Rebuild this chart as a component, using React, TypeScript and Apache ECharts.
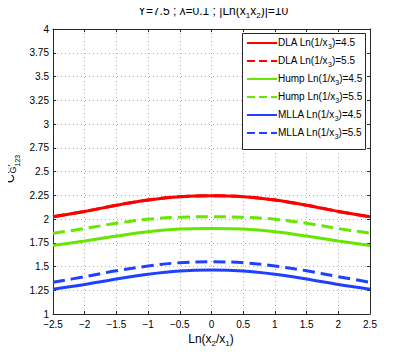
import React, { useEffect, useRef } from "react";
import * as echarts from "echarts";

const xs = [-2.5, -2, -1.5, -1, -0.5, 0, 0.5, 1, 1.5, 2, 2.5];
const dla45 = [2.024, 2.08, 2.145, 2.2, 2.235, 2.245, 2.235, 2.2, 2.145, 2.08, 2.024];
const dla55 = [2.024, 2.08, 2.145, 2.2, 2.235, 2.245, 2.235, 2.2, 2.145, 2.08, 2.024];
const hump45 = [1.72, 1.768, 1.82, 1.866, 1.894, 1.9, 1.894, 1.866, 1.82, 1.768, 1.72];
const hump55 = [1.85, 1.9, 1.955, 1.998, 2.018, 2.024, 2.018, 1.998, 1.955, 1.9, 1.85];
const mlla45 = [1.26, 1.31, 1.368, 1.418, 1.452, 1.462, 1.452, 1.418, 1.368, 1.31, 1.26];
const mlla55 = [1.334, 1.393, 1.455, 1.505, 1.54, 1.55, 1.54, 1.505, 1.455, 1.393, 1.334];

const seriesNames = ["DLA", "DLA", "Hump", "Hump", "MLLA", "MLLA"];
const seriesX3 = ["4.5", "5.5", "4.5", "5.5", "4.5", "5.5"];
const seriesValues = [dla45, dla55, hump45, hump55, mlla45, mlla55];
const seriesColors = ["#ff0000", "#ff0000", "#66e600", "#66e600", "#2040ff", "#2040ff"];
const seriesDash = ["solid", "dashed", "solid", "dashed", "solid", "dashed"];

const titleParts: [string, boolean][] = [["Y=7.5 ; \u03bb=0.1 ; |Ln(x", false], ["1", true], ["x", false], ["2", true], [")|=10", false]];
const xNameParts: [string, boolean][] = [["Ln(x", false], ["2", true], ["/x", false], ["1", true], [")", false]];

const FONT = "Liberation Sans, Arial, sans-serif";
const AX = "#262626";

function measure(text: string, size: number): number {
  const c = document.createElement("canvas").getContext("2d");
  if (!c) return text.length * size * 0.55;
  c.font = `${size}px ${FONT}`;
  return c.measureText(text).width;
}

function lineWithSubs(parts: [string, boolean][], cx: number, cy: number, size: number, subSize: number, subDy: number) {
  const widths = parts.map(([t, sub]) => measure(t, sub ? subSize : size));
  const total = widths.reduce((a, b) => a + b, 0);
  let x = cx - total / 2;
  return parts.map(([t, sub], i) => {
    const el = {
      type: "text", x, y: sub ? cy + subDy : cy, z: 100,
      style: { text: t, font: `${sub ? subSize : size}px ${FONT}`, fill: "#000", verticalAlign: "middle", align: "left" },
    };
    x += widths[i];
    return el;
  });
}

export default function App() {
  const ref = useRef<HTMLDivElement>(null);
  useEffect(() => {
    if (!ref.current) return;
    const chart = echarts.init(ref.current, undefined, { renderer: "svg" });
    const ids = seriesNames.map((n, i) => `${n} Ln(1/x3)=${seriesX3[i]} #${i}`);
    const series = seriesValues.map((vals, i) => ({
      name: ids[i],
      type: "line",
      xAxisIndex: 0,
      yAxisIndex: 0,
      data: xs.map((x, j) => [x, vals[j]]),
      smooth: 0.35,
      symbol: "none",
      lineStyle: { color: seriesColors[i], width: 3, type: seriesDash[i] },
      itemStyle: { color: seriesColors[i] },
      z: i === 1 ? 1 : 2,
    }));
    const rich = {
      n: { fontSize: 10, fontFamily: FONT, color: "#000", lineHeight: 12, verticalAlign: "top" },
      s: { fontSize: 7, fontFamily: FONT, color: "#000", lineHeight: 8, padding: [6, 0, 0, 0], verticalAlign: "top" },
    };
    const axisCommon = {
      axisLine: { show: true, onZero: false, lineStyle: { color: AX, width: 1 } },
      axisTick: { show: true, inside: true, length: 3, lineStyle: { color: AX } },
    };
    chart.setOption({
      animation: false,
      grid: { left: 53, right: 39, top: 29, bottom: 40 },
      xAxis: [
        {
          type: "value", min: -2.5, max: 2.5, interval: 0.5, position: "bottom",
          ...axisCommon,
          axisLabel: {
            fontSize: 10, fontFamily: FONT, color: "#000", margin: 5,
            formatter: (v: number) => String(v).replace("-", "\u2212"),
          },
          splitLine: { show: true, lineStyle: { color: "#b0b0b0", type: [1, 3], width: 1 } },
        },
        {
          type: "value", min: -2.5, max: 2.5, interval: 0.5, position: "top",
          ...axisCommon, axisLabel: { show: false }, splitLine: { show: false },
        },
      ],
      yAxis: [
        {
          type: "value", min: 1, max: 4, interval: 0.25, position: "left",
          ...axisCommon,
          axisLabel: { fontSize: 10, fontFamily: FONT, color: "#000", margin: 4 },
          splitLine: { show: true, lineStyle: { color: "#b0b0b0", type: [1, 3], width: 1 } },
        },
        {
          type: "value", min: 1, max: 4, interval: 0.25, position: "right",
          ...axisCommon, axisLabel: { show: false }, splitLine: { show: false },
        },
      ],
      legend: {
        data: ids,
        orient: "vertical",
        left: 242,
        top: 33,
        padding: [4, 1, 5, 4],
        backgroundColor: "transparent",
        borderWidth: 0,
        itemWidth: 30,
        itemHeight: 12,
        itemGap: 5,
        selectedMode: false,
        itemStyle: { opacity: 0 },
        formatter: (name: string) => {
          const i = ids.indexOf(name);
          return `{n|${seriesNames[i]} Ln(1/x}{s|3}{n|)=${seriesX3[i]}}`;
        },
        textStyle: { rich, padding: [0, 0, 0, -4] },
      },
      graphic: [
        {
          type: "rect", z: 3, silent: true,
          shape: { x: 242.5, y: 33.5, width: 123, height: 116 },
          style: { fill: "#fff", stroke: AX, lineWidth: 1 },
        },
        ...lineWithSubs(titleParts, 213, 11, 12, 8, 4),
        ...lineWithSubs(xNameParts, 211, 339, 12, 8, 4),
        {
          type: "group", x: 10, y: 183, rotation: Math.PI / 2,
          children: [
            { type: "text", x: 0, y: 0, style: { text: "C", font: `12px ${FONT}`, fill: "#000", verticalAlign: "middle" } },
            { type: "text", x: 9.5, y: -5, style: { text: "(3)", font: `8px ${FONT}`, fill: "#000", verticalAlign: "middle" } },
            { type: "text", x: 9.5, y: 3, style: { text: "G", font: `9px ${FONT}`, fill: "#000", verticalAlign: "middle" } },
            { type: "text", x: 16.5, y: 7, style: { text: "123", font: `7px ${FONT}`, fill: "#000", verticalAlign: "middle" } },
          ],
        },
      ],
      series,
    });
    return () => chart.dispose();
  }, []);
  return <div ref={ref} style={{ width: 409, height: 354, margin: -8 }} />;
}
